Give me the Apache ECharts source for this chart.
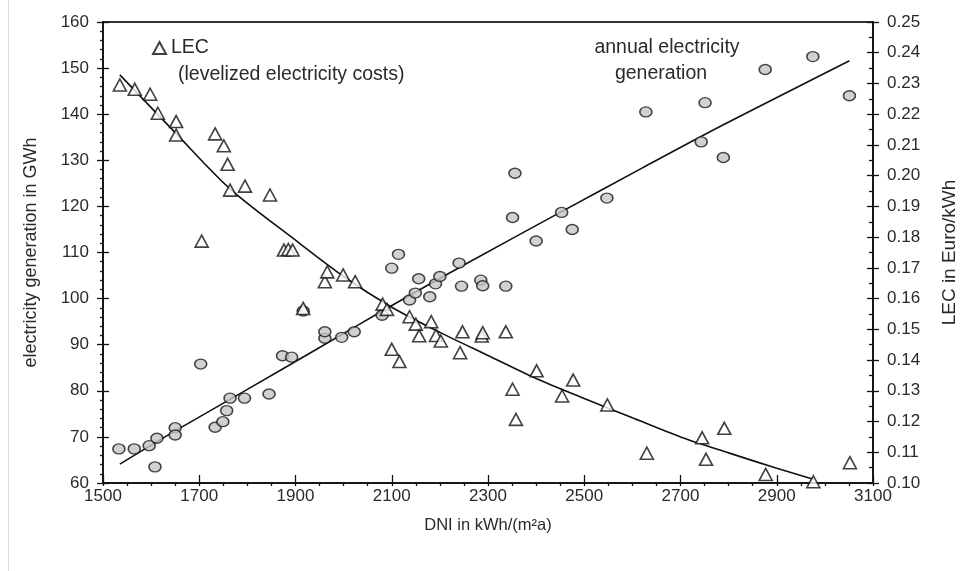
<!DOCTYPE html>
<html>
<head>
<meta charset="utf-8">
<script src="https://cdn.jsdelivr.net/npm/echarts@6/dist/echarts.min.js"></script>
<style>
  html, body { margin: 0; padding: 0; background: #fff; }
  #chart { width: 962px; height: 571px; }
</style>
</head>
<body>
<div id="chart"></div>
<script>
// DNI axis range and ticks
const dniMin = 1500, dniMax = 3100, dniStep = 200;
// left axis: electricity generation (GWh)
const genMin = 60, genMax = 160, genStep = 10;
// right axis: levelized electricity costs (Euro/kWh)
const lecMin = 0.10, lecMax = 0.25, lecStep = 0.01;

// site values: [DNI, annual electricity generation in GWh]
const generationPoints = [
  [1533, 67.4], [1565, 67.4], [1596, 68.1], [1612, 69.7], [1608, 63.5],
  [1650, 72.0], [1650, 70.4], [1703, 85.8], [1733, 72.1], [1749, 73.3],
  [1757, 75.7], [1764, 78.4], [1794, 78.4], [1845, 79.3], [1873, 87.6],
  [1892, 87.3], [1916, 97.3], [1961, 91.4], [1961, 92.8], [1996, 91.6],
  [2022, 92.8], [2080, 96.4], [2100, 106.6], [2114, 109.6], [2137, 99.7],
  [2149, 101.2], [2156, 104.3], [2179, 100.4], [2191, 103.2], [2200, 104.8],
  [2240, 107.7], [2245, 102.7], [2285, 104.0], [2289, 102.8], [2337, 102.7],
  [2351, 117.6], [2356, 127.2], [2400, 112.5], [2453, 118.7], [2475, 115.0],
  [2547, 121.8], [2628, 140.5], [2743, 134.0], [2751, 142.5], [2789, 130.6],
  [2876, 149.7], [2975, 152.5], [3051, 144.0]
];

// site values: [DNI, LEC in Euro/kWh]
const lecPoints = [
  [1535, 0.2295], [1566, 0.2281], [1598, 0.2265], [1614, 0.2203], [1652, 0.2176],
  [1652, 0.2132], [1705, 0.1787], [1733, 0.2136], [1751, 0.2097], [1759, 0.2037],
  [1764, 0.1953], [1795, 0.1966], [1847, 0.1937], [1876, 0.1758], [1885, 0.1760],
  [1894, 0.1758], [1916, 0.1568], [1961, 0.1655], [1966, 0.1687], [1999, 0.1677],
  [2024, 0.1655], [2081, 0.1582], [2090, 0.1565], [2100, 0.1435], [2116, 0.1395],
  [2137, 0.1541], [2150, 0.1517], [2157, 0.1479], [2182, 0.1525], [2192, 0.1480],
  [2202, 0.1462], [2242, 0.1424], [2247, 0.1492], [2287, 0.1478], [2289, 0.1489],
  [2337, 0.1492], [2351, 0.1305], [2358, 0.1207], [2401, 0.1365], [2454, 0.1283],
  [2477, 0.1335], [2548, 0.1254], [2630, 0.1097], [2745, 0.1147], [2753, 0.1077],
  [2791, 0.1178], [2877, 0.1028], [2976, 0.1004], [3052, 0.1066]
];

// trend curves
const generationTrend = [
  [1535, 64.1], [1650, 71.3], [1800, 80.3], [1950, 89.4], [2090, 97.9],
  [2250, 107.3], [2450, 118.7], [2620, 128.3], [2789, 137.7], [3051, 151.6]
];
const lecTrend = [
  [1535, 0.2328], [1650, 0.2140], [1764, 0.1957], [1900, 0.1790], [2000, 0.1672],
  [2100, 0.1572], [2200, 0.1490], [2300, 0.1415], [2400, 0.1340], [2500, 0.1275],
  [2600, 0.1212], [2700, 0.1150], [2800, 0.1098], [2900, 0.1048], [2976, 0.1012]
];

const FONT = '"Liberation Sans", Arial, Helvetica, sans-serif';
const INK = '#111';
const TEXT = '#2a2a2a';

const chart = echarts.init(document.getElementById('chart'), null, { renderer: 'canvas' });

const tickLine = { color: INK, width: 1.3 };

const option = {
  animation: false,
  backgroundColor: '#fff',
  textStyle: { fontFamily: FONT },
  grid: {
    left: 103, right: 89, top: 22, bottom: 88,
    outerBoundsMode: 'none',
    show: true, borderColor: '#333', borderWidth: 2, backgroundColor: 'transparent'
  },
  legend: {
    data: [{ name: 'LEC' }],
    left: 147, top: 33,
    itemWidth: 13, itemHeight: 12, itemGap: 6,
    textStyle: { fontFamily: FONT, fontSize: 19.5, color: TEXT }
  },
  graphic: [
    { type: 'line', shape: { x1: 8.5, y1: 0, x2: 8.5, y2: 571 }, style: { stroke: '#ddd', lineWidth: 1 }, silent: true },
    {
      type: 'text', silent: true,
      style: { x: 178, y: 75, text: '(levelized electricity costs)', font: '19.5px ' + FONT, fill: TEXT, verticalAlign: 'middle' }
    },
    {
      type: 'text', silent: true,
      style: { x: 667, y: 48, text: 'annual electricity', font: '19.5px ' + FONT, fill: TEXT, align: 'center', verticalAlign: 'middle' }
    },
    {
      type: 'text', silent: true,
      style: { x: 661, y: 74, text: 'generation', font: '19.5px ' + FONT, fill: TEXT, align: 'center', verticalAlign: 'middle' }
    }
  ],
  xAxis: [
    {
      type: 'value', min: dniMin, max: dniMax, interval: dniStep,
      name: 'DNI in kWh/(m²a)', nameLocation: 'middle', nameGap: 34,
      nameTextStyle: { fontFamily: FONT, fontSize: 16.5, color: TEXT },
      axisLine: { onZero: false, lineStyle: { color: INK, width: 1.5 } },
      axisTick: { length: 3, lineStyle: tickLine },
      minorTick: { show: true, splitNumber: 4, length: 3, lineStyle: tickLine },
      splitLine: { show: false },
      axisLabel: { fontFamily: FONT, fontSize: 17, color: TEXT, margin: 5, formatter: v => String(v) }
    },
    {
      type: 'value', min: dniMin, max: dniMax, interval: dniStep, position: 'bottom',
      axisLine: { show: false },
      axisTick: { inside: true, length: 8, lineStyle: tickLine },
      axisLabel: { show: false }, splitLine: { show: false }
    }
  ],
  yAxis: [
    {
      type: 'value', min: genMin, max: genMax, interval: genStep, position: 'left',
      name: 'electricity generation in GWh', nameLocation: 'middle', nameGap: 63,
      nameTextStyle: { fontFamily: FONT, fontSize: 18, color: TEXT },
      axisLine: { show: true, onZero: false, lineStyle: { color: INK, width: 1.5 } },
      axisTick: { length: 6, lineStyle: tickLine },
      minorTick: { show: true, splitNumber: 5, length: 3, lineStyle: tickLine },
      splitLine: { show: false },
      axisLabel: { fontFamily: FONT, fontSize: 17, color: TEXT, margin: 14 }
    },
    {
      type: 'value', min: lecMin, max: lecMax, interval: lecStep, position: 'right',
      name: 'LEC in Euro/kWh', nameLocation: 'middle', nameGap: 67, nameRotate: 90,
      nameTextStyle: { fontFamily: FONT, fontSize: 19, color: TEXT },
      axisLine: { show: true, onZero: false, lineStyle: { color: INK, width: 1.5 } },
      axisTick: { inside: true, length: 6, lineStyle: tickLine },
      minorTick: { show: true, splitNumber: 2, length: 4, lineStyle: tickLine },
      splitLine: { show: false },
      axisLabel: {
        fontFamily: FONT, fontSize: 17, color: TEXT, margin: 14,
        formatter: v => v.toFixed(2)
      }
    },
    {
      type: 'value', min: genMin, max: genMax, interval: genStep, position: 'left',
      axisLine: { show: false },
      axisTick: { inside: true, length: 6, lineStyle: tickLine },
      axisLabel: { show: false }, splitLine: { show: false }
    },
    {
      type: 'value', min: lecMin, max: lecMax, interval: lecStep, position: 'right',
      axisLine: { show: false },
      axisTick: { length: 6, lineStyle: tickLine },
      axisLabel: { show: false }, splitLine: { show: false }
    }
  ],
  series: [
    {
      name: 'generation trend', type: 'line', xAxisIndex: 0, yAxisIndex: 0,
      data: generationTrend, smooth: 0.3, showSymbol: false, silent: true,
      lineStyle: { color: INK, width: 1.6 }, z: 2
    },
    {
      name: 'LEC trend', type: 'line', xAxisIndex: 0, yAxisIndex: 1,
      data: lecTrend, smooth: 0.3, showSymbol: false, silent: true,
      lineStyle: { color: INK, width: 1.6 }, z: 2
    },
    {
      name: 'annual electricity generation', type: 'scatter', xAxisIndex: 0, yAxisIndex: 0,
      data: generationPoints, symbol: 'circle', symbolSize: [12, 10],
      itemStyle: { color: '#c6c6c6', borderColor: '#1a1a1a', borderWidth: 1.5 }, z: 3
    },
    {
      name: 'LEC', type: 'scatter', xAxisIndex: 0, yAxisIndex: 1,
      data: lecPoints, symbol: 'triangle', symbolSize: [13, 12],
      itemStyle: { color: '#fff', borderColor: '#111', borderWidth: 1.6 }, z: 3
    }
  ]
};

chart.setOption(option);
</script>
</body>
</html>
